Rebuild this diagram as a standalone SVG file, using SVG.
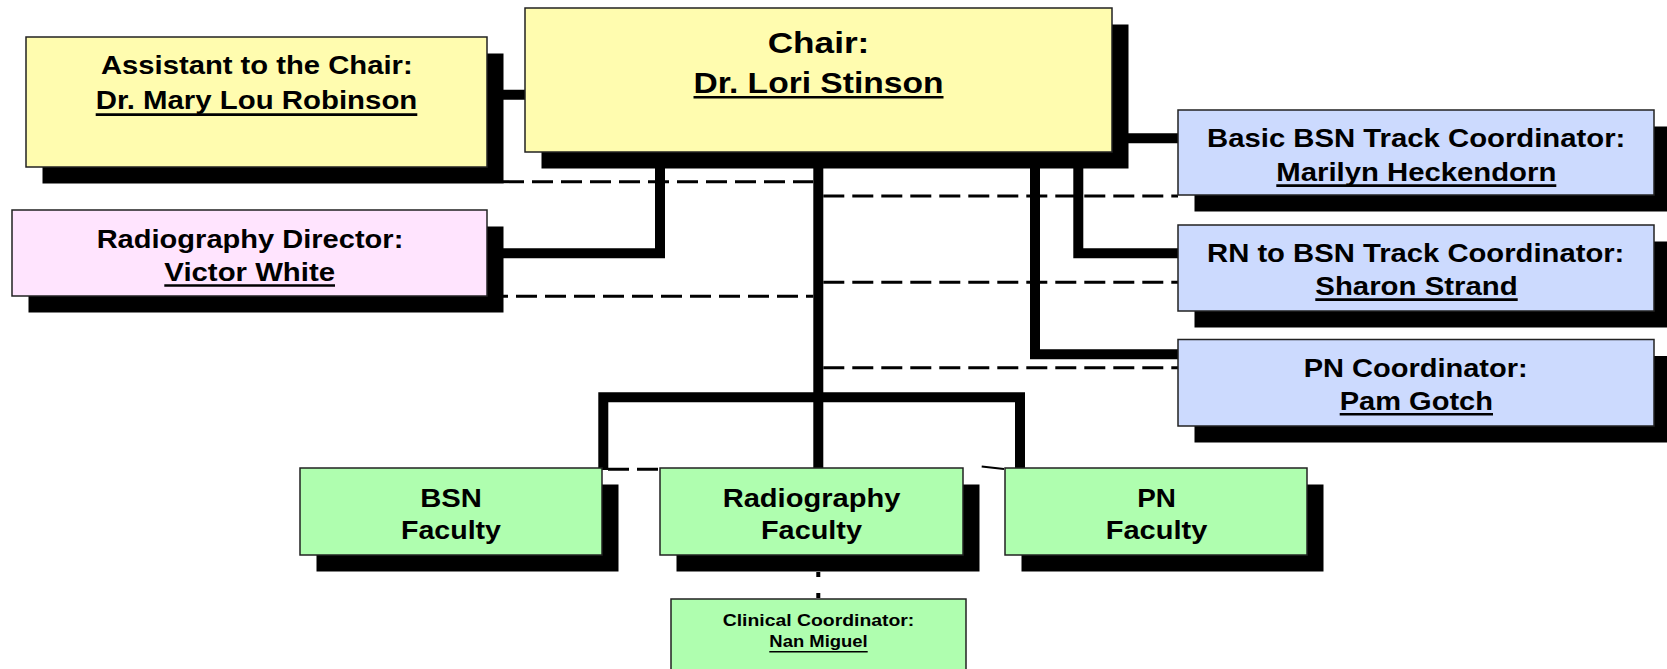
<svg xmlns="http://www.w3.org/2000/svg" width="1667" height="669" viewBox="0 0 1667 669">
<style>
.sh{fill:#000}
.bx{stroke:#222;stroke-width:1.5}
.y{fill:#FFFCAF}.p{fill:#FFE4FE}.b{fill:#CCDAFE}.g{fill:#AFFEAF}
text{font-family:"Liberation Sans",Arial,sans-serif;font-weight:bold;fill:#000;text-anchor:middle}
.t{font-size:26px}
.tc{font-size:30px}
.ts{font-size:17px}
.u{stroke:#000;stroke-width:2.6}
.us{stroke:#000;stroke-width:1.6}
.solid{fill:none;stroke:#000;stroke-width:10;stroke-linejoin:miter;stroke-linecap:butt}
.dash{fill:none;stroke:#000;stroke-width:3;stroke-dasharray:21 8}
</style>
<rect width="1667" height="669" fill="#fff"/>
<g id="connectors">
  <path class="solid" d="M487,94.7 H526"/>
  <path class="solid" d="M818.3,150 V470"/>
  <path class="solid" d="M660,150 V253.3 H487"/>
  <path class="solid" d="M1112,138.3 H1179"/>
  <path class="solid" d="M1078.3,150 V253.3 H1179"/>
  <path class="solid" d="M1035,150 V354.3 H1179"/>
  <path class="solid" d="M603.3,470 V397.3 H1020 V470"/>
  <path class="dash" d="M503,181.7 H813.3"/>
  <path class="dash" d="M487,296.3 H813.3"/>
  <path class="dash" d="M823.3,196 H1178"/>
  <path class="dash" d="M823.3,282.3 H1178"/>
  <path class="dash" d="M823.3,367.8 H1178"/>
  <path class="dash" d="M608,469.3 H659"/>
  <path fill="none" stroke="#000" stroke-width="2" d="M981.7,466.6 L1004,469"/>
  <path fill="none" stroke="#000" stroke-width="4" stroke-dasharray="5 16" d="M818.3,572 V599"/>
</g>
<g id="chair">
  <rect class="sh" x="541.5" y="24.5" width="587" height="144"/>
  <rect class="bx y" x="525" y="8" width="587" height="144"/>
  <text class="tc" x="818.5" y="53.3" textLength="101.7" lengthAdjust="spacingAndGlyphs">Chair:</text>
  <text class="tc" x="818.5" y="93.3" textLength="250" lengthAdjust="spacingAndGlyphs">Dr. Lori Stinson</text>
  <line class="u" x1="693.5" y1="97.3" x2="943.5" y2="97.3"/>
</g>
<g id="assistant">
  <rect class="sh" x="42.5" y="53.5" width="461" height="130"/>
  <rect class="bx y" x="26" y="37" width="461" height="130"/>
  <text class="t" x="256.8" y="74.3" textLength="311.7" lengthAdjust="spacingAndGlyphs">Assistant to the Chair:</text>
  <text class="t" x="256.5" y="109.3" textLength="321.6" lengthAdjust="spacingAndGlyphs">Dr. Mary Lou Robinson</text>
  <line class="u" x1="95.7" y1="114.6" x2="417.3" y2="114.6"/>
</g>
<g id="radiography-director">
  <rect class="sh" x="28.5" y="226.5" width="475" height="86"/>
  <rect class="bx p" x="12" y="210" width="475" height="86"/>
  <text class="t" x="250" y="248.3" textLength="306.7" lengthAdjust="spacingAndGlyphs">Radiography Director:</text>
  <text class="t" x="249.7" y="280.7" textLength="170.7" lengthAdjust="spacingAndGlyphs">Victor White</text>
  <line class="u" x1="164.3" y1="285.5" x2="335" y2="285.5"/>
</g>
<g id="basic-bsn">
  <rect class="sh" x="1194.5" y="126.5" width="476" height="85"/>
  <rect class="bx b" x="1178" y="110" width="476" height="85"/>
  <text class="t" x="1416.2" y="146.7" textLength="418.3" lengthAdjust="spacingAndGlyphs">Basic BSN Track Coordinator:</text>
  <text class="t" x="1416.3" y="181" textLength="280" lengthAdjust="spacingAndGlyphs">Marilyn Heckendorn</text>
  <line class="u" x1="1276.3" y1="185.6" x2="1556.3" y2="185.6"/>
</g>
<g id="rn-bsn">
  <rect class="sh" x="1194.5" y="241.5" width="476" height="86"/>
  <rect class="bx b" x="1178" y="225" width="476" height="86"/>
  <text class="t" x="1415.7" y="261.7" textLength="417.3" lengthAdjust="spacingAndGlyphs">RN to BSN Track Coordinator:</text>
  <text class="t" x="1416.5" y="295" textLength="202.3" lengthAdjust="spacingAndGlyphs">Sharon Strand</text>
  <line class="u" x1="1315.3" y1="299.6" x2="1517.7" y2="299.6"/>
</g>
<g id="pn-coordinator">
  <rect class="sh" x="1194.5" y="356" width="476" height="86.5"/>
  <rect class="bx b" x="1178" y="339.5" width="476" height="86.5"/>
  <text class="t" x="1415.7" y="376.7" textLength="224" lengthAdjust="spacingAndGlyphs">PN Coordinator:</text>
  <text class="t" x="1416.3" y="410" textLength="153.3" lengthAdjust="spacingAndGlyphs">Pam Gotch</text>
  <line class="u" x1="1339.7" y1="414.2" x2="1493" y2="414.2"/>
</g>
<g id="bsn-faculty">
  <rect class="sh" x="316.5" y="484.5" width="302" height="87"/>
  <rect class="bx g" x="300" y="468" width="302" height="87"/>
  <text class="t" x="451" y="507" textLength="61.7" lengthAdjust="spacingAndGlyphs">BSN</text>
  <text class="t" x="451" y="539" textLength="100" lengthAdjust="spacingAndGlyphs">Faculty</text>
</g>
<g id="radiography-faculty">
  <rect class="sh" x="676.5" y="484.5" width="303" height="87"/>
  <rect class="bx g" x="660" y="468" width="303" height="87"/>
  <text class="t" x="811.5" y="507" textLength="177.7" lengthAdjust="spacingAndGlyphs">Radiography</text>
  <text class="t" x="811.5" y="539" textLength="101" lengthAdjust="spacingAndGlyphs">Faculty</text>
</g>
<g id="pn-faculty">
  <rect class="sh" x="1021.5" y="484.5" width="302" height="87"/>
  <rect class="bx g" x="1005" y="468" width="302" height="87"/>
  <text class="t" x="1156.5" y="507" textLength="38.7" lengthAdjust="spacingAndGlyphs">PN</text>
  <text class="t" x="1156.5" y="539" textLength="101.6" lengthAdjust="spacingAndGlyphs">Faculty</text>
</g>
<g id="clinical-coordinator">
  <rect class="bx g" x="671" y="599" width="295" height="80"/>
  <text class="ts" x="818.5" y="625.7" textLength="191.7" lengthAdjust="spacingAndGlyphs">Clinical Coordinator:</text>
  <text class="ts" x="818.5" y="647.3" textLength="98.3" lengthAdjust="spacingAndGlyphs">Nan Miguel</text>
  <line class="us" x1="769.3" y1="651.7" x2="867.7" y2="651.7"/>
</g>
</svg>
